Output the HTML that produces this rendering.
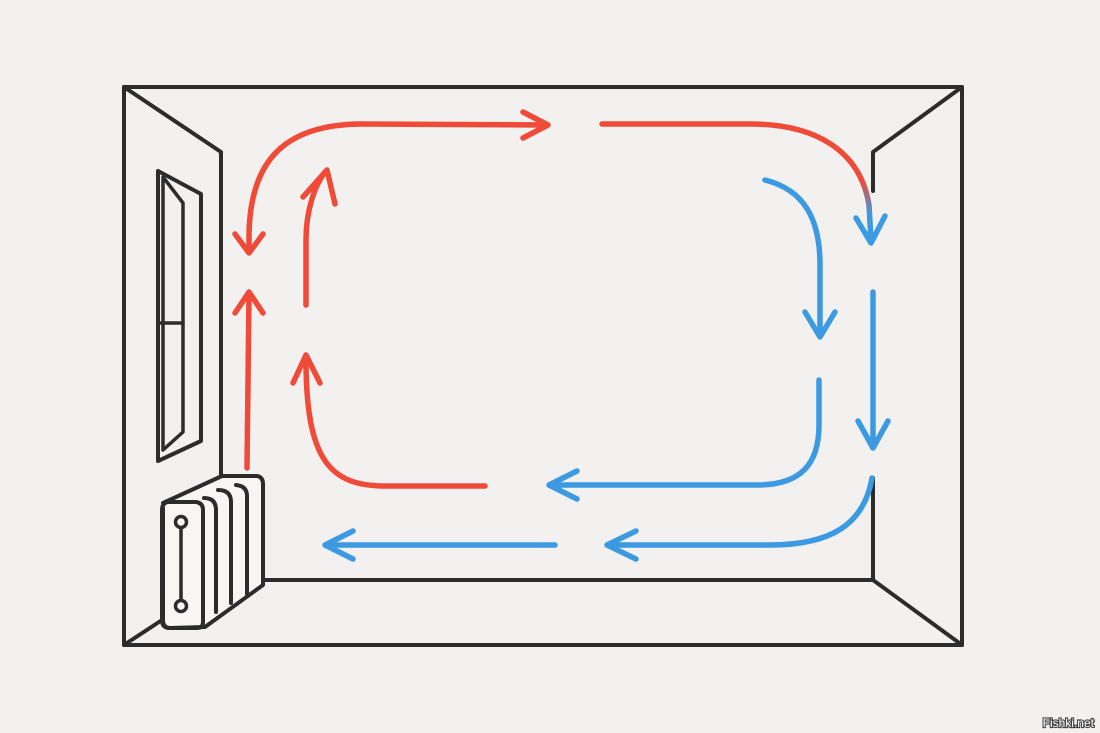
<!DOCTYPE html>
<html><head><meta charset="utf-8"><style>
html,body{margin:0;padding:0;background:#f2f1ef;}
svg{display:block;}
</style></head><body>
<svg width="1100" height="733" viewBox="0 0 1100 733" xmlns="http://www.w3.org/2000/svg">
<rect width="1100" height="733" fill="#f2f1ef"/>
<g fill="none" stroke="#2c2c2c" stroke-width="4" stroke-linecap="round" stroke-linejoin="round">
<rect x="124" y="87" width="838" height="558"/>
<path d="M124 87 L221 152 L221 478"/>
<path d="M962 87 L873 152 L873 191"/>
<path d="M873 478 L873 580 L962 645"/>
<path d="M262 580 L873 580"/>
<path d="M124 645 L162 620"/>
<!-- window -->
<path d="M158 171 L158 461 L201 441 L201 194 Z"/>
<path d="M163 177 L163 450 L183 432 L183 203 Z" stroke-width="3.5"/>
<path d="M160 323 L183 323" stroke-width="3.5"/>
</g>
<!-- radiator -->
<g stroke="#2c2c2c" stroke-width="4" stroke-linecap="round" stroke-linejoin="round">
<path d="M163 503 L222 476 L257 476 Q263 477 263 484 L263 585 L205 627 L170 628 Q162 628 162 620 L162 510 Q162 503 168 502 Z" fill="#f7f6f2"/>
<path d="M168 502 L196 502 Q203 503 203 510 L203 622 Q203 628 197 628 L170 628 Q163 628 163 620 L163 508" fill="none"/>
<path d="M204 498 Q216 498 216 510 L216 612" fill="none"/>
<path d="M218 490 Q231 490 231 502 L231 603" fill="none"/>
<path d="M236 485 Q247 486 247 496 L247 594" fill="none"/>
<path d="M181 527 L181 601" fill="none" stroke-width="3.5"/>
<circle cx="181" cy="522" r="5.5" fill="#f7f6f2" stroke-width="3.5"/>
<circle cx="181" cy="606" r="5.5" fill="#f7f6f2" stroke-width="3.5"/>
</g>
<defs>
<linearGradient id="rb" x1="0" y1="180" x2="0" y2="215" gradientUnits="userSpaceOnUse">
<stop offset="0" stop-color="#f04a38"/><stop offset="1" stop-color="#3b9ae1"/>
</linearGradient>
</defs>
<!-- red -->
<g fill="none" stroke="#f04a38" stroke-width="5.5" stroke-linecap="round" stroke-linejoin="round">
<path d="M249 250 L249 235 C250 160 285 125 360 124 L546 125"/>
<path d="M523 112 L548 125 L523 138"/>
<path d="M235 234 L249 253 L263 234"/>
<path d="M247 468 L249 295"/>
<path d="M235 313 L249 292 L263 313"/>
<path d="M306 305 L306 240 C306 210 315 185 325 172"/>
<path d="M303 197 L327 170 L335 204"/>
<path d="M485 486 L385 486 C330 486 306 460 306 360"/>
<path d="M293 383 L306 355 L320 383"/>
</g>
<g fill="none" stroke="url(#rb)" stroke-width="5.5" stroke-linecap="round" stroke-linejoin="round">
<path d="M602 124 L750 124 C815 124 860 150 869 205 L871 240"/>
</g>
<g fill="none" stroke="#3b9ae1" stroke-width="5.5" stroke-linecap="round" stroke-linejoin="round">
<path d="M856 218 L871 243 L885 216"/>
</g>
<!-- blue -->
<g fill="none" stroke="#3b9ae1" stroke-width="5.5" stroke-linecap="round" stroke-linejoin="round">
<path d="M765 180 C805 190 820 220 820 265 L820 336"/>
<path d="M805 312 L820 337 L835 312"/>
<path d="M873 292 L873 445"/>
<path d="M858 421 L873 448 L888 421"/>
<path d="M819 380 L819 425 C819 465 800 485 757 485 L550 485"/>
<path d="M577 471 L549 485 L577 499"/>
<path d="M872 478 C864 525 830 545 770 545 L608 545"/>
<path d="M636 531 L607 545 L636 559"/>
<path d="M555 545 L326 545"/>
<path d="M353 531 L325 545 L353 559"/>
</g>
<text x="1094" y="727" text-anchor="end" font-family="Liberation Sans, sans-serif" font-size="12" fill="#fff" stroke="#444" stroke-width="2.2" paint-order="stroke">Fishki.net</text>
</svg>
</body></html>
